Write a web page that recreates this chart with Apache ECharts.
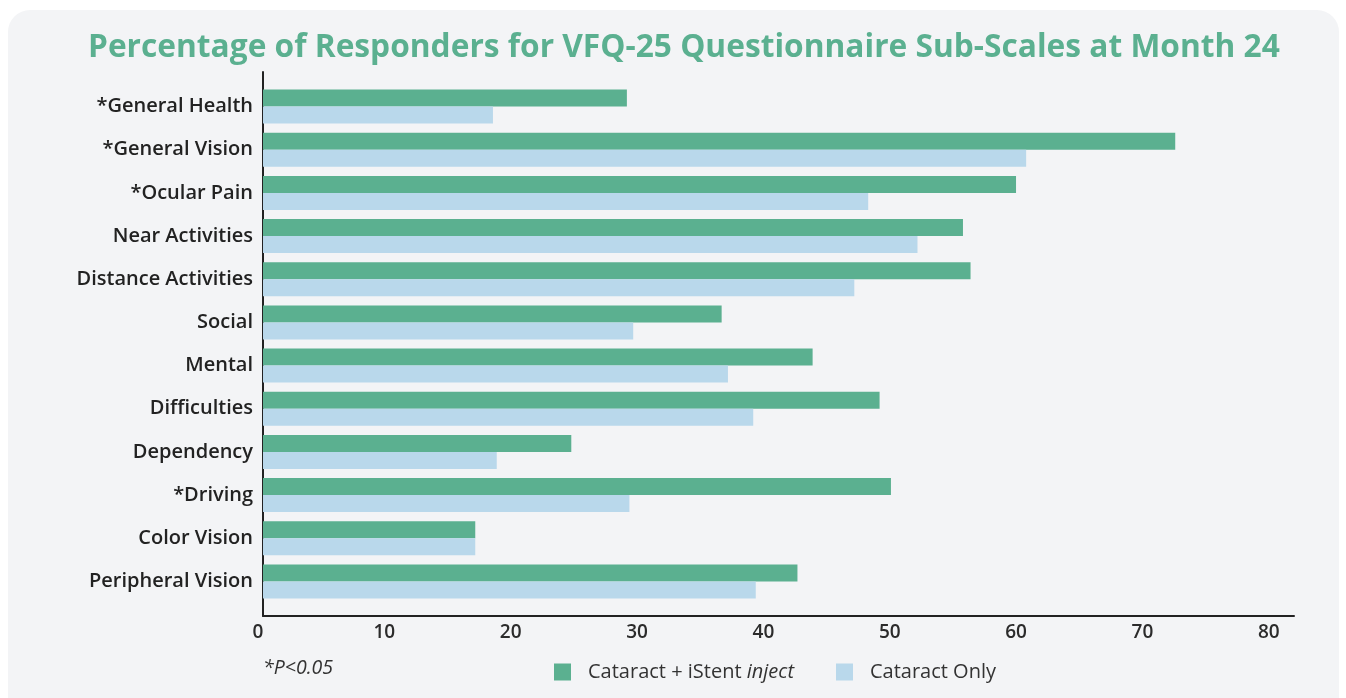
<!DOCTYPE html>
<html>
<head>
<meta charset="utf-8">
<title>VFQ-25 Responders</title>
<script src="https://cdn.jsdelivr.net/npm/echarts@6/dist/echarts.min.js"></script>
<style>
  html, body { margin: 0; padding: 0; background: #ffffff; }
  .card {
    position: absolute; left: 8px; top: 10px;
    width: 1331px; height: 720px;
    background: #f3f4f6; border-radius: 22px;
  }
  #chart { position: absolute; left: 0; top: 0; width: 1346px; height: 698px; }
</style>
</head>
<body>
<div class="card"></div>
<div id="chart"></div>
<script>
// sub-scales, top to bottom
const categories = [
  '*General Health', '*General Vision', '*Ocular Pain', 'Near Activities',
  'Distance Activities', 'Social', 'Mental', 'Difficulties',
  'Dependency', '*Driving', 'Color Vision', 'Peripheral Vision'
];
// % responders, cataract + iStent inject
const istentValues = [28.8, 72.2, 59.6, 55.4, 56.0, 36.3, 43.5, 48.8, 24.4, 49.7, 16.8, 42.3];
// % responders, cataract only
const cataractValues = [18.2, 60.4, 47.9, 51.8, 46.8, 29.3, 36.8, 38.8, 18.5, 29.0, 16.8, 39.0];
const xTicks = [0, 10, 20, 30, 40, 50, 60, 70, 80];
const seriesNames = ['Cataract + iStent inject', 'Cataract Only'];

const GREEN = '#5bb090';
const BLUE = '#b9d8eb';
const FONT = '"Open Sans", "Noto Sans", sans-serif';

const chart = echarts.init(document.getElementById('chart'));

const option = {
  backgroundColor: 'transparent',
  textStyle: { fontFamily: FONT },
  title: {
    text: 'Percentage of Responders for VFQ-25 Questionnaire Sub-Scales at Month 24',
    left: 83,
    top: 27,
    textStyle: { color: GREEN, fontSize: 31.7, fontWeight: 'bold', fontFamily: FONT }
  },
  legend: {
    left: 549,
    top: 657,
    itemWidth: 17,
    itemHeight: 17,
    itemGap: 42,
    icon: 'rect',
    data: seriesNames,
    formatter: function (name) {
      if (name === seriesNames[0]) return '{a|Cataract + iStent }{i|inject}';
      return '{a|' + name + '}';
    },
    textStyle: {
      fontSize: 20,
      color: '#333',
      rich: {
        a: { fontSize: 20, color: '#333', padding: [0, 0, 0, 12], fontFamily: FONT },
        i: { fontSize: 20, color: '#333', fontStyle: 'italic', fontFamily: FONT }
      }
    }
  },
  graphic: [{
    type: 'text',
    left: 263,
    top: 658,
    style: { text: '*P<0.05', fontSize: 19.5, fontStyle: 'italic', fill: '#333', fontFamily: FONT }
  }],
  grid: [
    // bars
    { left: 263, right: 52, top: 85, bottom: 95 },
    // axis frame
    { left: 263, right: 52, top: 72, bottom: 82 }
  ],
  xAxis: [{
    gridIndex: 0,
    type: 'value',
    min: 0,
    max: 81.6,
    interval: 10,
    show: false
  }, {
    gridIndex: 1,
    type: 'value',
    min: 0,
    max: 81.6,
    interval: 10,
    axisLine: { show: true, lineStyle: { color: '#222', width: 2 } },
    axisTick: { show: false },
    splitLine: { show: false },
    axisLabel: {
      showMaxLabel: false,
      margin: 7,
      fontSize: 19,
      fontWeight: 600,
      color: '#2b2b2b',
      padding: [0, 10, 0, 0],
      formatter: function (v) {
        return xTicks.indexOf(v) >= 0 ? String(v) : '';
      }
    }
  }],
  yAxis: [{
    gridIndex: 0,
    type: 'category',
    data: categories,
    inverse: true,
    axisLine: { show: false },
    axisTick: { show: false },
    axisLabel: { margin: 10, fontSize: 20, fontWeight: 600, color: '#222' }
  }, {
    gridIndex: 1,
    type: 'value',
    min: 0,
    max: 1,
    axisLine: { show: true, lineStyle: { color: '#222', width: 2 } },
    axisTick: { show: false },
    axisLabel: { show: false },
    splitLine: { show: false }
  }],
  series: [{
    name: seriesNames[0],
    type: 'bar',
    xAxisIndex: 0,
    yAxisIndex: 0,
    barWidth: 17,
    barGap: '0%',
    silent: true,
    itemStyle: { color: GREEN },
    data: istentValues
  }, {
    name: seriesNames[1],
    type: 'bar',
    xAxisIndex: 0,
    yAxisIndex: 0,
    barWidth: 17,
    barGap: '0%',
    silent: true,
    itemStyle: { color: BLUE },
    data: cataractValues
  }]
};

chart.setOption(option);
</script>
</body>
</html>
